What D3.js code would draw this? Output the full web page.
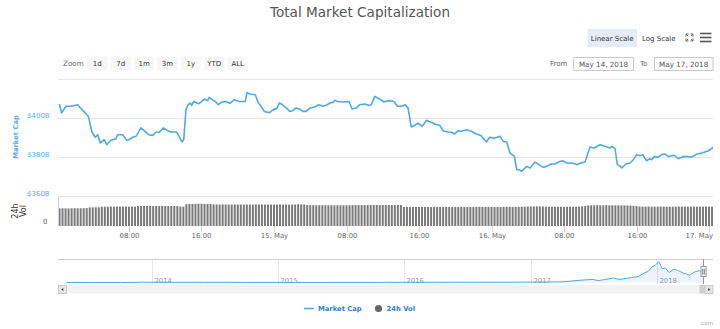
<!DOCTYPE html>
<html>
<head>
<meta charset="utf-8">
<script src="https://cdn.jsdelivr.net/npm/d3@7"></script>
<style>
  html, body { margin: 0; padding: 0; background: #fff; }
  svg { display: block; font-family: "DejaVu Sans", Verdana, sans-serif; }
</style>
</head>
<body>
<svg id="chart" width="720" height="329"></svg>
<script>
// ---- Market cap (billions USD), hours after 14 May 2018 00:00 UTC ----
const capHours = [0.31,0.57,1.05,1.6,2.34,2.7,3.18,3.51,3.73,3.92,4.28,4.55,4.83,5.27,5.54,6.01,6.57,6.75,7.3,7.78,
  8.41,8.77,9.32,9.69,10.17,10.62,10.98,11.34,11.78,12.27,12.63,13.26,13.63,13.85,14.04,14.29,14.48,14.73,14.92,15.14,
  15.69,16.13,16.31,16.68,16.86,17.24,17.52,17.85,18.23,18.7,19.14,19.62,20.17,20.83,21.02,21.35,21.94,22.27,22.57,22.93,
  23.48,23.92,24.3,24.58,
  24.81,25.36,25.73,26.02,26.39,26.84,27.2,27.56,27.94,28.49,28.93,29.41,29.77,30.15,30.51,30.7,31.06,31.61,32.28,32.61,
  33.08,33.46,34.01,34.45,34.74,35.11,35.59,36.14,36.58,37.24,37.61,38.05,38.49,38.79,39.15,39.53,39.89,40.36,40.81,41.36,
  41.73,42.28,42.65,43.2,43.56,43.94,44.3,44.67,45.22,45.77,46.32,46.87,47.43,47.8,48.35,
  48.94,49.3,49.68,50.04,50.52,50.78,51.03,51.33,51.88,52.25,52.8,53.35,53.72,54.09,54.57,55.01,55.37,55.86,56.3,56.85,
  57.4,57.88,58.32,58.87,59.34,59.97,60.52,61.08,61.26,61.63,61.88,62.07,62.37,62.84,63.28,63.65,64.02,64.39,64.68,65.12,
  65.49,65.68,65.96,66.34,66.78,67.14,67.51,68.17,68.61,69.16,70.09,70.64,71.19,71.56,71.93,72.48];
const capValues = [407.2,402.6,406,406,406.8,404.8,402.6,400.9,396.6,392.7,390.1,391.4,387.2,388.9,386.3,388.6,389.4,391.4,391.4,388.4,
  390.1,390.6,394.9,393.5,391.4,391.1,392.7,392.7,394.9,393.5,392.8,392.8,389.7,387.7,388.9,404.3,406.5,407.7,406.5,408.5,
  407.3,408.9,409.7,408.9,410.6,409.1,408.5,406.8,408.2,408.5,407.5,409.4,408.5,408.5,413,412.3,411.9,407.7,406,403.4,
  402.7,404.3,404.8,407.7,
  407.2,405.1,403.4,403.7,405.1,404.6,403.4,403.4,405.1,405.6,406.8,406,406.5,407.7,408,409.1,408.5,408.2,408.5,404.6,
  405.1,406.8,407.2,406.5,406.8,411.1,409.9,408.2,408.9,408.5,406,406,406.8,405.1,395.4,396.3,397.4,395.7,398.8,397.8,
  396.9,396.3,393.5,392.8,392.7,391.8,393.5,393.2,394,393.2,391.8,390.9,387.7,390.1,389.7,
  390.6,388,387.7,382,380.3,373.5,373.5,372.7,375.2,374.4,377.4,375.7,374.7,375.2,376.4,376.4,377.4,378.1,376.9,376.9,
  376.1,376.9,377.4,385.1,384.6,386.3,385.5,384.6,385.5,384.3,376.1,375.7,374.4,376.4,376.9,378.6,381.2,380.7,381.2,378.1,
  379.1,378.6,380.3,379.8,381.2,381.5,380.3,380.9,379.1,380.3,380,381.5,382,382.6,383.2,385];

// ---- 24h volume (billions USD), one bar every 20 minutes from 00:20 ----
const volValues = [
  18.2,18.3,18.3,18.2,18.3,18.4,18.3,18.3,18.4,18.5,
  19.2,19.3,19.3,19.4,
  19.9,20.0,20.0,20.1,20.0,20.0,20.0,20.1,20.0,20.0,20.1,20.0,
  20.7,20.6,20.7,20.7,20.8,20.6,20.7,20.7,20.8,20.7,20.6,20.7,20.7,20.6,
  20.1,20.0,
  22.6,22.8,22.8,22.9,23.0,23.0,22.9,22.8,22.7,
  22.3,22.2,22.2,22.3,22.2,22.2,22.2,22.3,22.2,22.2,22.1,22.2,22.2,22.2,22.3,22.2,22.2,22.2,22.1,22.2,
  22.2,22.2,22.3,22.2,22.2,22.1,22.2,22.2,22.5,22.4,22.2,
  21.7,21.6,
  21.5,21.4,21.4,21.4,21.5,21.4,21.4,21.4,21.5,21.4,21.4,21.4,21.5,21.6,21.6,21.6,21.7,21.7,21.7,21.7,
  21.8,21.8,21.7,21.7,21.8,21.8,21.7,21.7,21.8,21.7,
  19.7,19.7,19.6,19.7,19.7,19.7,19.8,19.7,19.7,19.6,19.7,19.7,19.7,19.8,19.7,19.7,19.6,19.7,19.7,19.8,
  19.7,19.7,19.7,19.6,19.7,19.7,19.7,19.8,19.7,19.7,19.6,19.7,19.7,19.7,19.8,19.8,19.7,19.7,19.8,19.9,20.0,
  20.2,20.3,20.2,20.3,20.2,20.2,20.1,
  19.9,19.9,20.0,19.9,19.9,19.8,19.9,20.0,19.9,19.9,20.1,20.3,20.6,
  21.2,21.4,21.4,21.5,21.4,21.4,21.5,21.4,21.4,21.3,21.4,21.4,21.3,21.2,21.1,20.9,20.6,
  20.1,20.0,20.0,20.1,20.0,20.0,20.0,20.1,20.0,20.0,19.9,20.0,20.0,20.1,20.0,20.0,20.0,20.1,20.0,20.0,
  20.0,20.0,20.1,20.0,20.0];
const volStepMinutes = 20;

// ---- Axis ticks ----
const yTickValues = [360, 380, 400, 420];
const yTickLabels = ["$360B", "$380B", "$400B", ""];
const xTickHours = [8, 16, 24, 32, 40, 48, 56, 64, 72];
const xTickLabels = ["08:00", "16:00", "15. May", "08:00", "16:00", "16. May", "08:00", "16:00", "17. May"];

// ---- Navigator: full market cap history (billions USD) ----
const navDates = ["2013-04-28","2013-07-05","2013-10-01","2013-11-15","2013-12-04","2013-12-20","2014-01-05","2014-02-25",
  "2014-06-01","2014-09-01","2014-12-01","2015-01-15","2015-06-01","2015-09-01","2015-11-05","2016-01-01","2016-03-01",
  "2016-06-17","2016-08-01","2016-11-01","2017-01-01","2017-03-01","2017-04-01","2017-05-15","2017-06-12","2017-07-01",
  "2017-07-16","2017-08-29","2017-09-15","2017-10-20","2017-11-08","2017-11-25","2017-12-08","2017-12-20","2017-12-28",
  "2018-01-07","2018-01-17","2018-01-26","2018-02-06","2018-02-20","2018-03-05","2018-03-18","2018-03-25","2018-04-06",
  "2018-04-24","2018-05-05","2018-05-17"];
const navValues = [1.5,0.9,1.6,5.5,15,8,11,7,8.5,6.5,5,2.8,3.6,3.8,6.5,6.8,7.5,12.5,9.5,12,17.7,22,25,78,110,120,75,180,120,
  200,230,380,450,640,700,830,560,575,400,540,470,380,350,300,440,470,385];
const navYears = [2014, 2015, 2016, 2017, 2018];

const rangeButtons = ["1d", "7d", "1m", "3m", "1y", "YTD", "ALL"];
const fromDate = "May 14, 2018";
const toDate = "May 17, 2018";

// ---- Layout ----
const svg = d3.select("#chart");
const plotL = 58, plotR = 713;
const mainTop = 79, mainBottom = 196;
const volTop = 197, volBottom = 226;
const navTop = 259, navBottom = 284;

const lineColor = "#4ea8ea";
const labelBlue = "#5aaeee";
const legendBlue = "#3380d0";
const gridColor = "#e6e6e6";
const axisColor = "#ccd6eb";

const base = Date.UTC(2018, 4, 14, 0, 0, 0);
const hourDate = h => new Date(base + h * 3600e3);

const x = d3.scaleUtc()
  .domain([hourDate(0.166), hourDate(72.44)])
  .range([plotL, plotR]);
const y = d3.scaleLinear().domain([360, 420]).range([mainBottom, mainTop]);
const yVol = d3.scaleLinear().domain([0, 30]).range([volBottom, volTop]);

// Title
svg.append("text")
  .attr("x", 360).attr("y", 16.7)
  .attr("text-anchor", "middle")
  .attr("font-size", 13.6)
  .attr("fill", "#555")
  .text("Total Market Capitalization");

// Scale toggle buttons
svg.append("rect").attr("x", 587.5).attr("y", 29).attr("width", 49.5).attr("height", 18)
  .attr("fill", "#e6ebf5");
svg.append("text").attr("x", 612.2).attr("y", 40.5).attr("text-anchor", "middle")
  .attr("font-size", 7).attr("fill", "#333").text("Linear Scale");
svg.append("text").attr("x", 642).attr("y", 40.5)
  .attr("font-size", 7).attr("fill", "#333").text("Log Scale");

// Fullscreen icon
const fs = svg.append("g").attr("stroke", "#666").attr("stroke-width", 1).attr("fill", "none");
[[686, 34, 1, 1], [693, 34, -1, 1], [686, 41, 1, -1], [693, 41, -1, -1]].forEach(([cx, cy, sx, sy]) => {
  fs.append("path").attr("d", `M${cx},${cy + 2.5 * sy} L${cx},${cy} L${cx + 2.5 * sx},${cy}`);
  fs.append("path").attr("d", `M${cx},${cy} L${cx + 2 * sx},${cy + 2 * sy}`);
});

// Menu icon
[33.5, 37.5, 41.5].forEach(yy => {
  svg.append("line").attr("x1", 700).attr("x2", 711.5).attr("y1", yy).attr("y2", yy)
    .attr("stroke", "#555").attr("stroke-width", 1.6);
});

// Range selector
svg.append("text").attr("x", 63).attr("y", 65.8).attr("font-size", 7.2).attr("fill", "#666").text("Zoom");
const btn = svg.append("g").selectAll("g").data(rangeButtons).join("g")
  .attr("transform", (d, i) => `translate(${87.3 + i * 23.4},56.7)`);
btn.append("rect").attr("width", 20).attr("height", 13.5).attr("fill", "#f7f7f7");
btn.append("text").attr("x", 10).attr("y", 9.3).attr("text-anchor", "middle")
  .attr("font-size", 7).attr("fill", "#333").text(d => d);

// Date inputs
svg.append("text").attr("x", 550).attr("y", 66).attr("font-size", 7).attr("fill", "#666").text("From");
svg.append("rect").attr("x", 573.5).attr("y", 57.5).attr("width", 60).attr("height", 13)
  .attr("fill", "#fff").attr("stroke", "#ccc");
svg.append("text").attr("x", 603.5).attr("y", 66.5).attr("text-anchor", "middle")
  .attr("font-size", 7.2).attr("fill", "#555").text(fromDate);
svg.append("text").attr("x", 640).attr("y", 66).attr("font-size", 7).attr("fill", "#666").text("To");
svg.append("rect").attr("x", 654.5).attr("y", 57.5).attr("width", 58.5).attr("height", 13)
  .attr("fill", "#fff").attr("stroke", "#ccc");
svg.append("text").attr("x", 683.7).attr("y", 66.5).attr("text-anchor", "middle")
  .attr("font-size", 7.2).attr("fill", "#555").text(toDate);

// Main grid
svg.append("g").selectAll("line").data(yTickValues).join("line")
  .attr("x1", plotL).attr("x2", plotR)
  .attr("y1", d => Math.round(y(d)) + 0.5).attr("y2", d => Math.round(y(d)) + 0.5)
  .attr("stroke", gridColor);

// Main y labels
svg.append("g").selectAll("text").data(yTickValues).join("text")
  .attr("x", 49.5).attr("y", d => y(d) - 0.5)
  .attr("text-anchor", "end")
  .attr("font-size", 6.9)
  .attr("fill", labelBlue)
  .text((d, i) => yTickLabels[i]);

svg.append("text")
  .attr("transform", "translate(18,137) rotate(-90)")
  .attr("text-anchor", "middle")
  .attr("font-size", 6.8).attr("font-weight", "bold")
  .attr("fill", labelBlue)
  .text("Market Cap");

// Clip for plot panes
svg.append("clipPath").attr("id", "plotClip")
  .append("rect").attr("x", plotL).attr("y", mainTop - 5).attr("width", plotR - plotL).attr("height", volBottom - mainTop + 5);

// Market cap line
const capData = capHours.map((h, i) => ({ t: hourDate(h), v: capValues[i] }));
svg.append("path")
  .datum(capData)
  .attr("clip-path", "url(#plotClip)")
  .attr("fill", "none")
  .attr("stroke", lineColor)
  .attr("stroke-width", 1.6)
  .attr("stroke-linejoin", "round")
  .attr("d", d3.line().x(d => x(d.t)).y(d => y(d.v)));

// Volume bars
const volData = volValues.map((v, i) => ({ t: hourDate((i + 1) * volStepMinutes / 60), v }));
svg.append("g").attr("clip-path", "url(#plotClip)")
  .selectAll("rect").data(volData).join("rect")
  .attr("x", d => x(d.t) - 1)
  .attr("width", 2)
  .attr("y", d => yVol(d.v))
  .attr("height", d => yVol(0) - yVol(d.v))
  .attr("fill", "#7a7a7a");

// Volume axis line and labels
svg.append("line").attr("x1", plotL + 0.5).attr("x2", plotL + 0.5).attr("y1", volTop).attr("y2", volBottom)
  .attr("stroke", axisColor);
svg.append("text").attr("x", 47.5).attr("y", 224).attr("text-anchor", "end")
  .attr("font-size", 7).attr("fill", "#666").text("0");
const volTitle = svg.append("text")
  .attr("transform", "translate(17.5,211) rotate(-90)")
  .attr("text-anchor", "middle")
  .attr("font-size", 8).attr("fill", "#333");
volTitle.append("tspan").attr("x", 0).attr("dy", 0).text("24h");
volTitle.append("tspan").attr("x", 0).attr("dy", 8).text("Vol");

// X axis; labels that would run past the plot edge are pulled back inside
const xAxis = svg.append("g");
const xt = xAxis.selectAll("g").data(xTickHours).join("g")
  .attr("transform", h => `translate(${Math.round(x(hourDate(h))) + 0.5},0)`);
xt.append("line").attr("y1", volBottom).attr("y2", volBottom + 6).attr("stroke", axisColor);
xt.append("text").attr("y", 238).attr("text-anchor", "middle")
  .attr("font-size", 6.9).attr("fill", "#666")
  .text((h, i) => xTickLabels[i])
  .each(function (h) {
    const w = this.getComputedTextLength();
    const cx = Math.round(x(hourDate(h))) + 0.5;
    const overflow = cx + w / 2 - plotR;
    if (overflow > 0) d3.select(this).attr("x", -overflow);
  });

// ---- Navigator ----
const navX = d3.scaleUtc()
  .domain([new Date(Date.UTC(2013, 3, 3)), new Date(Date.UTC(2018, 5, 13))])
  .range([plotL, plotR]);
const navY = d3.scaleLinear().domain([0, 900]).range([282.5, 260]);
const navData = navDates.map((d, i) => ({ t: new Date(d + "T00:00:00Z"), v: navValues[i] }));

// year grid lines and labels
const ny = svg.append("g").selectAll("g").data(navYears).join("g")
  .attr("transform", yr => `translate(${Math.round(navX(new Date(Date.UTC(yr, 0, 1)))) + 0.5},0)`);
ny.append("line").attr("y1", navTop).attr("y2", navBottom).attr("stroke", gridColor);
ny.append("text").attr("x", 2).attr("y", 282.5).attr("font-size", 6.8).attr("fill", "#999").text(yr => yr);

svg.append("path").datum(navData)
  .attr("fill", "rgba(124,181,236,0.15)")
  .attr("d", d3.area().x(d => navX(d.t)).y0(navY(0)).y1(d => navY(d.v)));
svg.append("path").datum(navData)
  .attr("fill", "none").attr("stroke", lineColor).attr("stroke-width", 1)
  .attr("d", d3.line().x(d => navX(d.t)).y(d => navY(d.v)));

svg.append("line").attr("x1", plotL).attr("x2", plotR).attr("y1", navTop + 0.5).attr("y2", navTop + 0.5)
  .attr("stroke", "#ccc");

// selected window handle
const selX = Math.round(navX(new Date(Date.UTC(2018, 4, 15, 12)))) + 0.5;
svg.append("line").attr("x1", selX).attr("x2", selX).attr("y1", navTop).attr("y2", navBottom)
  .attr("stroke", "#999");
svg.append("rect").attr("x", selX - 2.5).attr("y", 266.5).attr("width", 5).attr("height", 10)
  .attr("fill", "#f2f2f2").attr("stroke", "#999");
svg.append("line").attr("x1", selX - 0.8).attr("x2", selX - 0.8).attr("y1", 269).attr("y2", 274.5)
  .attr("stroke", "#333").attr("stroke-width", 0.6);
svg.append("line").attr("x1", selX + 0.8).attr("x2", selX + 0.8).attr("y1", 269).attr("y2", 274.5)
  .attr("stroke", "#333").attr("stroke-width", 0.6);

// Scrollbar
svg.append("rect").attr("x", plotL).attr("y", 285).attr("width", plotR - plotL).attr("height", 8.5)
  .attr("fill", "#f2f2f2");
svg.append("rect").attr("x", selX - 4).attr("y", 285).attr("width", 6).attr("height", 8.5)
  .attr("fill", "#d0d0d0");
[[plotL, -1], [plotR - 8.5, 1]].forEach(([bx, dir]) => {
  svg.append("rect").attr("x", bx + 0.5).attr("y", 285.5).attr("width", 8).attr("height", 8)
    .attr("fill", "#e6e6e6").attr("stroke", "#ccc");
  const cx = bx + 4.5, cy = 289.5;
  svg.append("path")
    .attr("d", `M${cx + dir * 1.2},${cy} L${cx - dir * 0.8},${cy - 1.5} L${cx - dir * 0.8},${cy + 1.5} Z`)
    .attr("fill", "#333");
});

// ---- Legend ----
svg.append("line").attr("x1", 304).attr("x2", 314).attr("y1", 308.5).attr("y2", 308.5)
  .attr("stroke", lineColor).attr("stroke-width", 1.6);
svg.append("text").attr("x", 318).attr("y", 311).attr("font-size", 6.8).attr("font-weight", "bold")
  .attr("fill", legendBlue).text("Market Cap");
svg.append("circle").attr("cx", 378.5).attr("cy", 308.5).attr("r", 3.6).attr("fill", "#666");
svg.append("text").attr("x", 386.5).attr("y", 311).attr("font-size", 6.8).attr("font-weight", "bold")
  .attr("fill", legendBlue).text("24h Vol");

svg.append("text").attr("x", 713).attr("y", 325).attr("text-anchor", "end")
  .attr("font-size", 5.5).attr("fill", "#aaa").text(".com");
</script>
</body>
</html>
